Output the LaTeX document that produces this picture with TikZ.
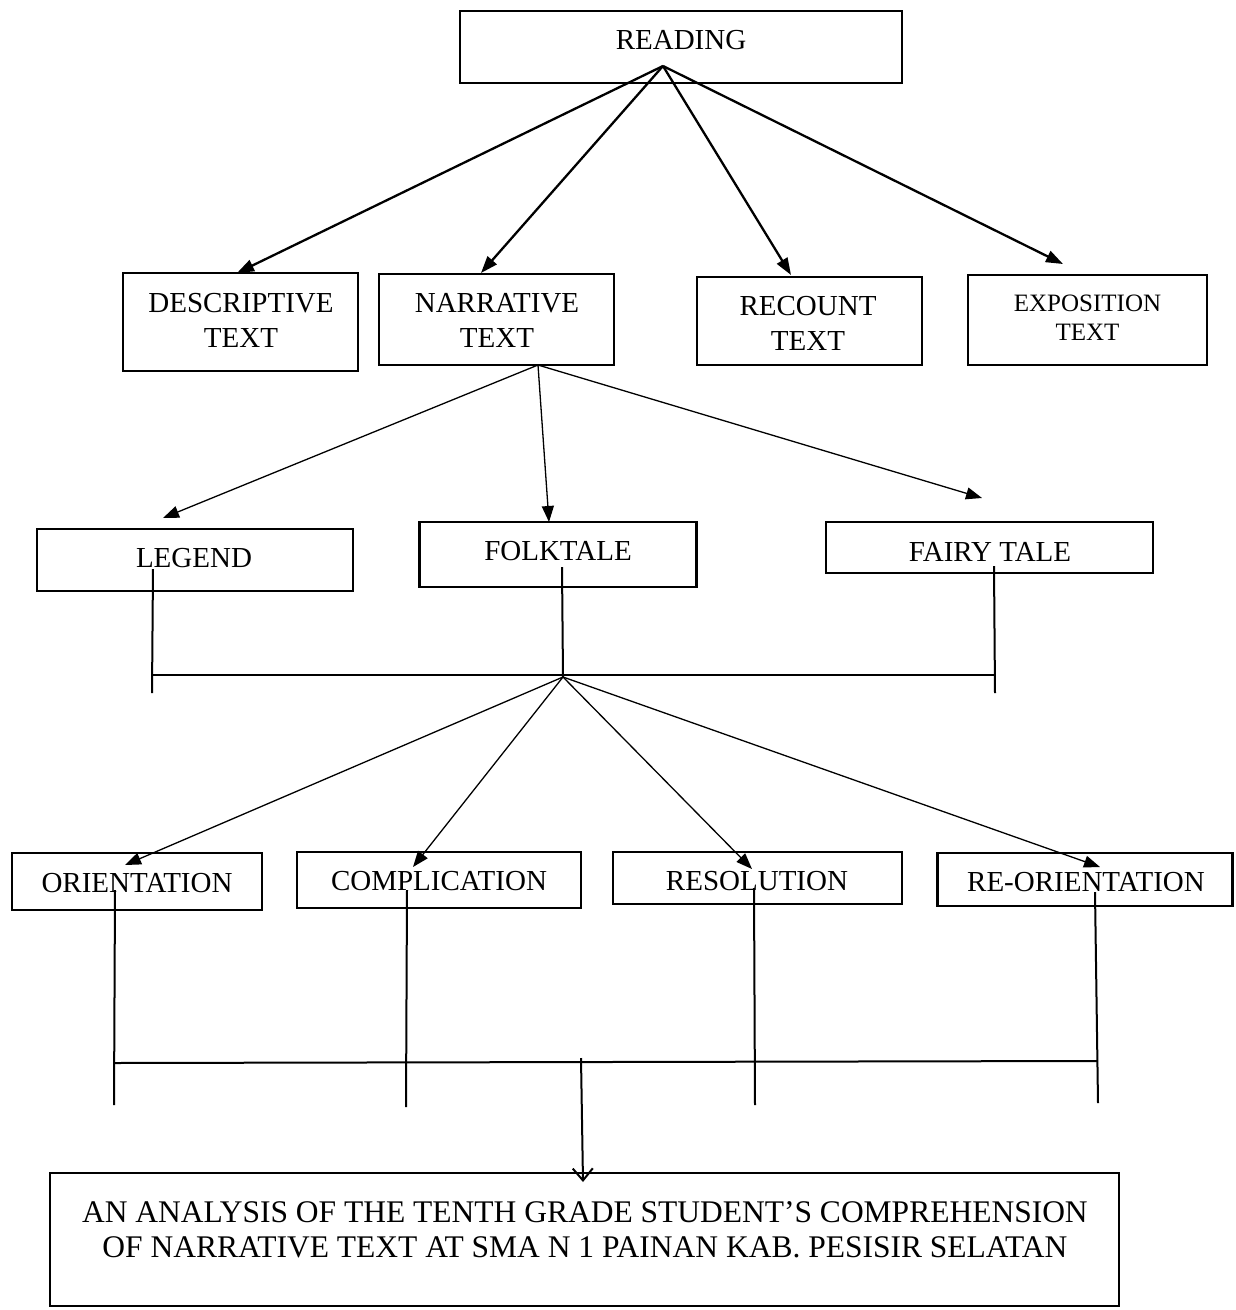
\documentclass[tikz,border=0pt]{standalone}
\usepackage{fontspec}
\setmainfont{Liberation Serif}
\usetikzlibrary{arrows.meta}
\newcommand\fsmain{\fontsize{29}{35}\selectfont}
\newcommand\fssmall{\fontsize{25}{29}\selectfont}
\newcommand\fsbig{\fontsize{31.5}{35}\selectfont}
\begin{document}
\begin{tikzpicture}[x=1pt,y=-1pt,
  box/.style={draw, line width=2.4pt, inner sep=0pt},
  lbl/.style={inner sep=0pt, align=center, font=\fsmain},
  toparrow/.style={line width=2.3pt, -{Triangle[length=17pt,width=12pt]}},
  midarrow/.style={line width=1.3pt, -{Triangle[length=16pt,width=12pt]}},
  stem/.style={line width=2pt},
  openarrow/.style={line width=2pt, -{Straight Barb[length=12pt,width=20pt,line width=2pt]}}
]
\useasboundingbox (0,0) rectangle (1235,1310);

% ---------- level 0
\node[box, minimum width=442pt, minimum height=72pt] (reading) at (681,47) {};
\node[lbl] (treading) at (681,40) {READING};

% ---------- level 1
\node[box, minimum width=235pt, minimum height=98pt] (desc) at (240.5,322) {};
\node[lbl] (tdesc) at (241,320.5) {DESCRIPTIVE\\TEXT};
\node[box, minimum width=235pt, minimum height=91pt] (narr) at (496.5,319.5) {};
\node[lbl] (tnarr) at (497,320.5) {NARRATIVE\\TEXT};
\node[box, minimum width=225pt, minimum height=88pt] (recount) at (809.5,321) {};
\node[lbl] (trecount) at (808,323) {RECOUNT\\TEXT};
\node[box, minimum width=239pt, minimum height=90pt] (expo) at (1087.5,320) {};
\node[lbl, font=\fssmall] (texpo) at (1087.5,317.5) {EXPOSITION\\TEXT};

% ---------- level 2
\node[box, minimum width=316pt, minimum height=62pt] (legend) at (195,560) {};
\node[lbl] (tlegend) at (194,558) {LEGEND};
\node[box, minimum width=277pt, minimum height=65pt] (folk) at (558,554.5) {};
\node[lbl] (tfolk) at (558,551) {FOLKTALE};
\node[box, minimum width=327pt, minimum height=51pt] (fairy) at (989.5,547.5) {};
\node[lbl] (tfairy) at (990,552) {FAIRY TALE};

% ---------- level 3
\node[box, minimum width=250pt, minimum height=57pt] (orient) at (137,881.5) {};
\node[lbl] (torient) at (137,883) {ORIENTATION};
\node[box, minimum width=284pt, minimum height=56pt] (compl) at (439,880) {};
\node[lbl] (tcompl) at (439,881) {COMPLICATION};
\node[box, minimum width=289pt, minimum height=52pt] (resol) at (757.5,878) {};
\node[lbl] (tresol) at (757,881) {RESOLUTION};
\node[box, minimum width=295pt, minimum height=53pt] (reor) at (1085,879.5) {};
\node[lbl] (treor) at (1086,882) {RE-ORIENTATION};

% ---------- final box
\node[box, minimum width=1069pt, minimum height=133pt] (final) at (584.5,1239.5) {};
\node[lbl, font=\fsbig] (tfinal) at (585,1229.5) {AN ANALYSIS OF THE TENTH GRADE STUDENT’S COMPREHENSION\\OF NARRATIVE TEXT AT SMA N 1 PAINAN KAB. PESISIR SELATAN};

% ---------- connector points
\coordinate (rhub) at (663,66);
\coordinate (tipdesc) at (237,273);
\coordinate (tipnarr) at (481,273);
\coordinate (tiprec) at (791,275);
\coordinate (tipexpo) at (1063,264);

\coordinate (nhub) at (538,365);
\coordinate (tipleg) at (163,518);
\coordinate (tipfolk) at (549,522);
\coordinate (tipfairy) at (982,498);

\coordinate (legtop) at (153,569);
\coordinate (legbar) at (153,675);
\coordinate (legbot) at (152,693);
\coordinate (folktop) at (562,567);
\coordinate (fhub) at (563,677);
\coordinate (fairytop) at (994,566);
\coordinate (fairybar) at (994,675);
\coordinate (fairybot) at (995,693);

\coordinate (tipor) at (125,865);
\coordinate (tipco) at (413,867);
\coordinate (tipre) at (752,869);
\coordinate (tipro) at (1100,867);

\coordinate (ortop) at (115,890);
\coordinate (orbar) at (114,1063);
\coordinate (orbot) at (114,1105);
\coordinate (cotop) at (407,890);
\coordinate (cobot) at (406,1107);
\coordinate (retop) at (754,888);
\coordinate (rebot) at (755,1105);
\coordinate (rotop) at (1095,892);
\coordinate (robar) at (1097,1061);
\coordinate (robot) at (1098,1103);
\coordinate (midtop) at (581,1058);
\coordinate (tipfinal) at (583,1182);

% ---------- connectors
\draw[toparrow] (rhub) -- (tipdesc);
\draw[toparrow] (rhub) -- (tipnarr);
\draw[toparrow] (rhub) -- (tiprec);
\draw[toparrow] (rhub) -- (tipexpo);

\draw[midarrow] (nhub) -- (tipleg);
\draw[midarrow] (nhub) -- (tipfolk);
\draw[midarrow] (nhub) -- (tipfairy);

\draw[stem] (legtop) -- (legbot);
\draw[stem] (folktop) -- (fhub);
\draw[stem] (fairytop) -- (fairybot);
\draw[stem] (legbar) -- (fairybar);

\draw[midarrow] (fhub) -- (tipor);
\draw[midarrow] (fhub) -- (tipco);
\draw[midarrow] (fhub) -- (tipre);
\draw[midarrow] (fhub) -- (tipro);

\draw[stem] (ortop) -- (orbot);
\draw[stem] (cotop) -- (cobot);
\draw[stem] (retop) -- (rebot);
\draw[stem] (rotop) -- (robot);
\draw[stem] (orbar) -- (robar);
\draw[openarrow] (midtop) -- (tipfinal);
\end{tikzpicture}
\end{document}
